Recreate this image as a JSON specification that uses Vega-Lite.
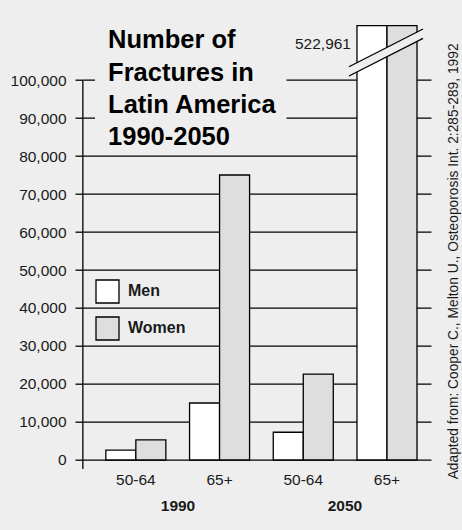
{
  "$schema": "https://vega.github.io/schema/vega-lite/v6.json",
  "width": 348,
  "height": 443.4,
  "autosize": {"type": "none"},
  "padding": {"left": 83, "top": 25.7, "right": 31, "bottom": 61},
  "background": "#eeeeee",
  "config": {"view": {"stroke": null}, "font": "Liberation Sans"},
  "title": {"text": "Adapted from: Cooper C., Melton U., Osteoporosis Int. 2:285-289, 1992", "orient": "right", "angle": -90, "frame": "group", "anchor": "middle", "baseline": "middle", "offset": 9, "fontSize": 13.8, "fontWeight": "normal", "color": "#1a1a1a", "dx": -14},
  "data": {"values": [
    {"cat": "1990 50-64", "year": "1990", "sex": "Men", "value": 2600},
    {"cat": "1990 50-64", "year": "1990", "sex": "Women", "value": 5300},
    {"cat": "1990 65+", "year": "1990", "sex": "Men", "value": 15000},
    {"cat": "1990 65+", "year": "1990", "sex": "Women", "value": 75000},
    {"cat": "2050 50-64", "year": "2050", "sex": "Men", "value": 7300},
    {"cat": "2050 50-64", "year": "2050", "sex": "Women", "value": 22600},
    {"cat": "2050 65+", "year": "2050", "sex": "Men", "value": 130000},
    {"cat": "2050 65+", "year": "2050", "sex": "Women", "value": 522961}
  ]},
  "layer": [
    {
      "layer": [
        {
          "mark": {"type": "bar", "stroke": "black", "strokeWidth": 1.3},
          "encoding": {
            "x": {"field": "cat", "type": "nominal", "sort": null,
              "scale": {"paddingInner": 0.283, "paddingOuter": 0.22, "align": 0.62},
              "axis": {"orient": "bottom", "title": null, "labelExpr": "slice(datum.label, 5)", "domain": false, "ticks": false, "labelPadding": 3, "labelAngle": 0, "labelFontSize": 15.5, "labelColor": "#1a1a1a", "grid": false}},
            "xOffset": {"field": "sex", "type": "nominal", "sort": ["Men", "Women"]},
            "y": {"field": "value", "type": "quantitative",
              "scale": {"domain": [-2400, 114300], "clamp": true, "nice": false},
              "axis": {"values": [0, 10000, 20000, 30000, 40000, 50000, 60000, 70000, 80000, 90000, 100000], "format": ",d", "title": null, "domain": false, "grid": true, "gridColor": "black", "gridWidth": 1.3, "gridOpacity": 1, "tickColor": "black", "tickWidth": 1.3, "tickSize": 8, "labelPadding": 9, "labelFontSize": 15.5, "labelColor": "#1a1a1a"}},
            "fill": {"field": "sex", "type": "nominal",
              "scale": {"domain": ["Men", "Women"], "range": ["#ffffff", "#dedede"]},
              "legend": {"orient": "none", "legendX": 12, "legendY": 253.3, "title": null, "symbolType": "square", "symbolSize": 529, "symbolStrokeColor": "black", "symbolStrokeWidth": 1.3, "symbolOpacity": 1, "labelFontSize": 16, "labelFontWeight": "bold", "labelColor": "#1a1a1a", "labelOffset": 8, "rowPadding": 8, "padding": 0}}
          }
        },
        {
          "data": {"values": [{}]},
          "mark": {"type": "rule", "color": "black", "strokeWidth": 1.3},
          "encoding": {
            "x": {"datum": "1990 50-64", "type": "nominal", "bandPosition": -0.383},
            "y": {"datum": -2400, "type": "quantitative"},
            "y2": {"datum": 100000}
          }
        },
        {
          "data": {"values": [{"g": 100000}, {"g": 90000}]},
          "mark": {"type": "rule", "color": "#eeeeee", "strokeWidth": 5, "strokeCap": "butt"},
          "encoding": {
            "x": {"datum": "1990 50-64", "type": "nominal", "bandPosition": -0.18},
            "x2": {"datum": "2050 50-64", "bandPosition": 0.22},
            "y": {"field": "g", "type": "quantitative"}
          }
        },
        {
          "data": {"values": [{}]},
          "mark": {"type": "text", "text": ["Number of", "Fractures in", "Latin America", "1990-2050"], "align": "left", "baseline": "alphabetic", "fontSize": 25.5, "fontWeight": "bold", "lineHeight": 32.2, "color": "black"},
          "encoding": {
            "x": {"datum": "1990 50-64", "type": "nominal", "bandPosition": 0.037},
            "y": {"datum": 108342, "type": "quantitative"}
          }
        },
        {
          "data": {"values": [{}]},
          "mark": {"type": "rule", "color": "#eeeeee", "strokeWidth": 8.3, "strokeCap": "butt"},
          "encoding": {
            "x": {"datum": "2050 65+", "type": "nominal", "bandPosition": -0.133},
            "x2": {"datum": "2050 65+", "bandPosition": 1.1},
            "y": {"datum": 102290, "type": "quantitative"},
            "y2": {"datum": 112200}
          }
        },
        {
          "data": {"values": [{}]},
          "mark": {"type": "rule", "color": "black", "strokeWidth": 1.3},
          "encoding": {
            "x": {"datum": "2050 65+", "type": "nominal", "bandPosition": -0.133},
            "x2": {"datum": "2050 65+", "bandPosition": 1.1},
            "y": {"datum": 103500, "type": "quantitative"},
            "y2": {"datum": 113420}
          }
        },
        {
          "data": {"values": [{}]},
          "mark": {"type": "rule", "color": "black", "strokeWidth": 1.3},
          "encoding": {
            "x": {"datum": "2050 65+", "type": "nominal", "bandPosition": -0.133},
            "x2": {"datum": "2050 65+", "bandPosition": 1.1},
            "y": {"datum": 101050, "type": "quantitative"},
            "y2": {"datum": 110970}
          }
        },
        {
          "transform": [{"filter": "datum.cat == '2050 65+' && datum.sex == 'Women'"}],
          "mark": {"type": "text", "align": "right", "baseline": "middle", "fontSize": 15.5, "color": "#1a1a1a"},
          "encoding": {
            "x": {"field": "cat", "type": "nominal", "bandPosition": -0.1},
            "y": {"datum": 109474, "type": "quantitative"},
            "text": {"field": "value", "type": "quantitative", "format": ","}
          }
        }
      ]
    },
    {
      "mark": {"type": "tick", "opacity": 0},
      "encoding": {
        "x": {"field": "year", "type": "nominal",
          "scale": {"paddingInner": 0, "paddingOuter": 0.042, "align": 0.82},
          "axis": {"orient": "bottom", "title": null, "domain": false, "ticks": false, "labelPadding": 29, "labelAngle": 0, "labelFontSize": 15.5, "labelFontWeight": "bold", "labelColor": "#1a1a1a", "grid": false}}
      }
    }
  ],
  "resolve": {"scale": {"x": "independent"}, "axis": {"x": "independent"}}
}
